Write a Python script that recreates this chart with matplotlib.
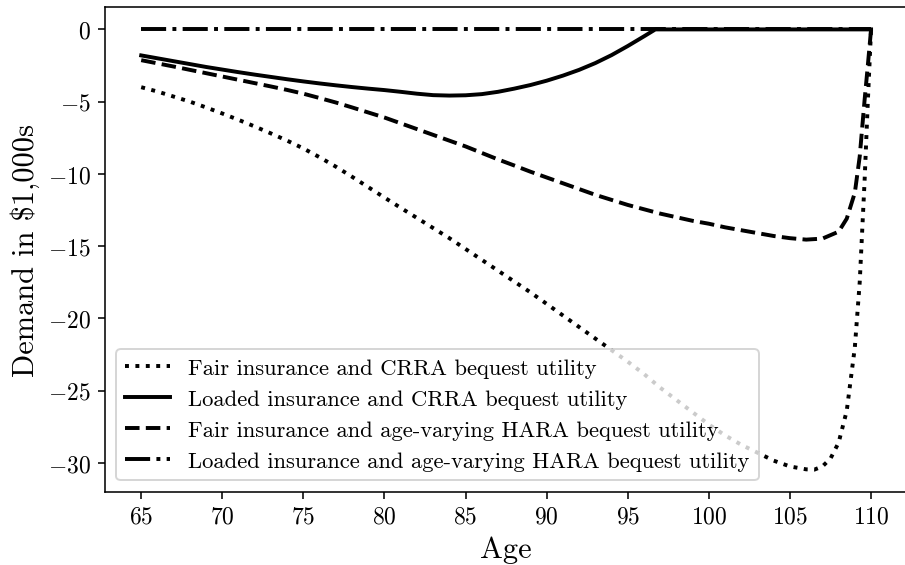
import matplotlib.pyplot as plt
import matplotlib as mpl
import numpy as np

# 年龄 / 数据 (单位: 千美元)
age_fair_crra = [65, 66, 67, 68, 69, 70, 71, 72, 73, 74, 75, 76, 77, 78, 79, 80,
                 81, 82, 83, 84, 85, 86, 87, 88, 89, 90, 91, 92, 93, 94, 95, 96,
                 97, 98, 99, 100, 101, 102, 103, 104, 105, 106, 106.5, 107, 107.5,
                 108, 108.5, 109, 109.3, 109.6, 109.8, 110]
fair_crra = [-4.0, -4.3, -4.65, -5.0, -5.4, -5.82, -6.26, -6.72, -7.2, -7.7, -8.24,
             -8.85, -9.5, -10.2, -10.92, -11.64, -12.35, -13.05, -13.75, -14.45,
             -15.2, -15.95, -16.7, -17.45, -18.2, -19.0, -19.8, -20.6, -21.4, -22.2,
             -23.0, -23.85, -24.8, -25.65, -26.5, -27.35, -28.1, -28.75, -29.3,
             -29.85, -30.25, -30.45, -30.47, -30.25, -29.7, -28.6, -26.4, -22.0,
             -17.5, -10.5, -5.0, 0.0]

age_loaded_crra = [65, 66, 67, 68, 69, 70, 71, 72, 73, 74, 75, 76, 77, 78, 79, 80,
                   81, 82, 83, 84, 85, 86, 87, 88, 89, 90, 91, 92, 93, 94, 95, 96,
                   96.7, 100, 105, 110]
loaded_crra = [-1.8, -2.0, -2.2, -2.4, -2.6, -2.78, -2.96, -3.13, -3.29, -3.45,
               -3.6, -3.74, -3.87, -3.99, -4.1, -4.2, -4.32, -4.45, -4.55, -4.58,
               -4.56, -4.48, -4.32, -4.1, -3.85, -3.55, -3.2, -2.8, -2.33, -1.78,
               -1.15, -0.48, 0.0, 0.0, 0.0, 0.0]

age_fair_hara = [65, 66, 67, 68, 69, 70, 71, 72, 73, 74, 75, 76, 77, 78, 79, 80,
                 81, 82, 83, 84, 85, 86, 87, 88, 89, 90, 91, 92, 93, 94, 95, 96,
                 97, 98, 99, 100, 101, 102, 103, 104, 105, 106, 107, 108, 108.5,
                 109, 109.3, 109.6, 109.8, 110]
fair_hara = [-2.13, -2.35, -2.57, -2.8, -3.03, -3.26, -3.49, -3.72, -3.95, -4.19,
             -4.45, -4.75, -5.06, -5.4, -5.75, -6.1, -6.5, -6.9, -7.3, -7.7, -8.1,
             -8.55, -9.0, -9.42, -9.85, -10.25, -10.65, -11.05, -11.45, -11.8,
             -12.15, -12.45, -12.75, -13.0, -13.25, -13.45, -13.7, -13.9, -14.1,
             -14.3, -14.45, -14.55, -14.48, -14.0, -13.1, -11.3, -8.8, -4.9, -2.5,
             0.0]

age_loaded_hara = [65, 110]
loaded_hara = [0.0, 0.0]

labels = ['Fair insurance and CRRA bequest utility',
          'Loaded insurance and CRRA bequest utility',
          'Fair insurance and age-varying HARA bequest utility',
          'Loaded insurance and age-varying HARA bequest utility']


def draw(pathout):
    mpl.rcParams['font.family'] = 'serif'
    mpl.rcParams['font.serif'] = ['cmr10']
    mpl.rcParams['mathtext.fontset'] = 'cm'
    mpl.rcParams['axes.formatter.use_mathtext'] = True

    fig = plt.figure(figsize=(6.4, 4), dpi=141.41)
    ax = fig.add_axes([0.1157, 0.1297, 0.8871, 0.8561])

    ax.plot(age_fair_crra, fair_crra, 'k:', lw=2, label=labels[0])
    ax.plot(age_loaded_crra, loaded_crra, 'k-', lw=2, label=labels[1])
    ax.plot(age_fair_hara, fair_hara, 'k--', lw=2, label=labels[2])
    ax.plot(age_loaded_hara, loaded_hara, 'k-.', lw=2, label=labels[3])

    ax.set_xticks(np.arange(65, 111, 5))
    ax.tick_params(labelsize=12)
    ax.set_xlabel('Age', fontsize=15.5)
    ax.set_ylabel(r'Demand in \$1,000s', fontsize=15.5)
    ax.legend(loc='lower left', fontsize=11.5)

    fig.savefig(pathout, dpi=141.41)
    plt.close()
    return


def main():
    draw('out.png')
    return


if __name__ == "__main__":
    main()
